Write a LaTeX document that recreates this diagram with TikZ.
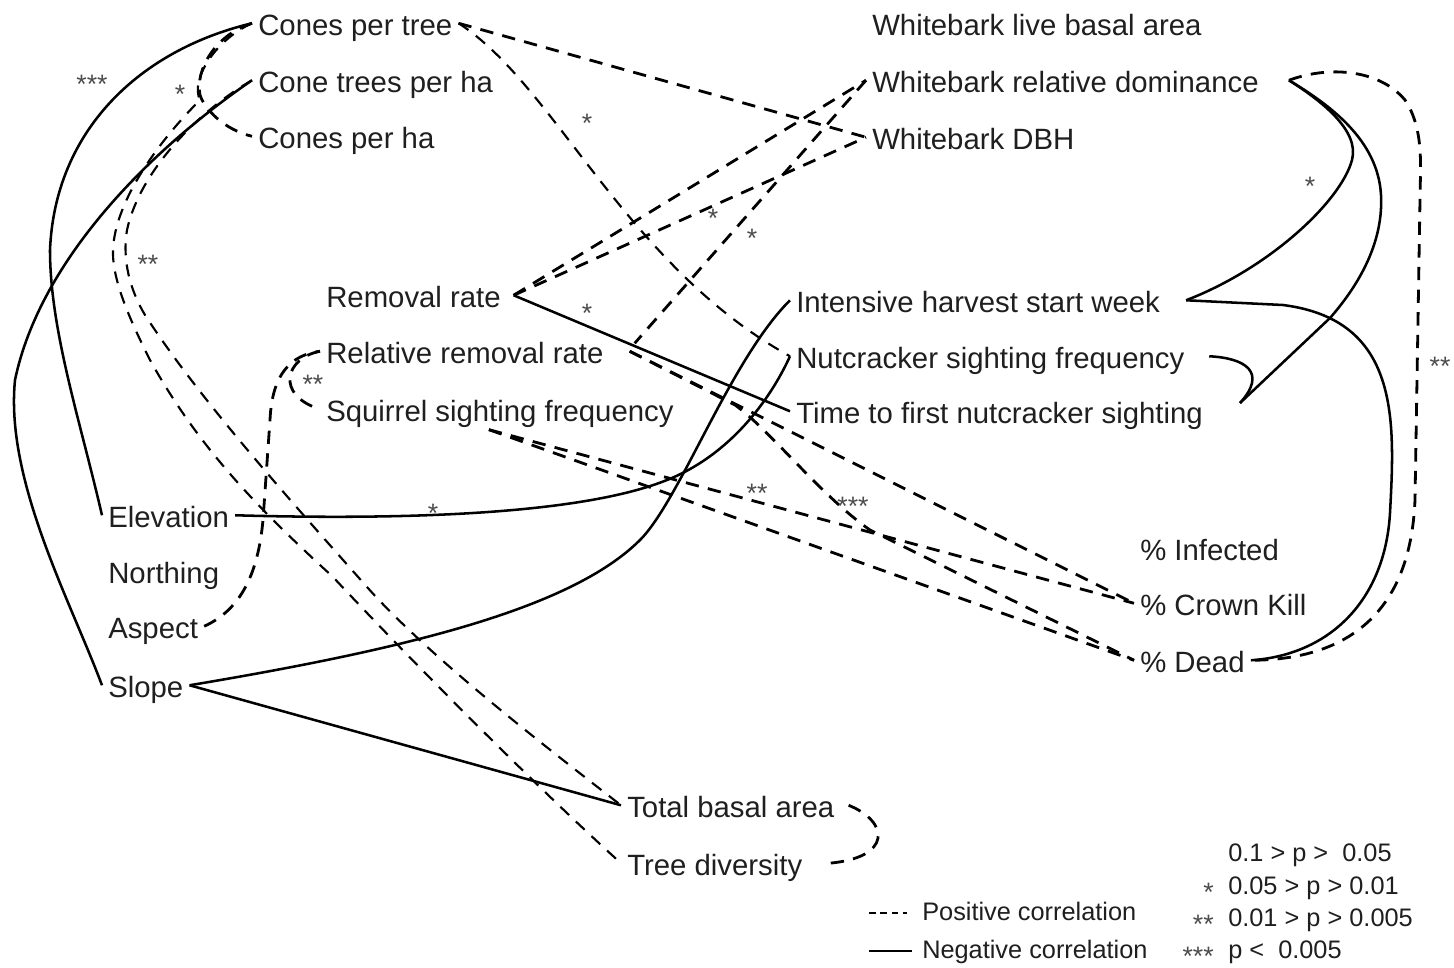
\documentclass[tikz,border=0pt]{standalone}
\usepackage{fontspec}
\setmainfont{Liberation Sans}
\usetikzlibrary{calc}
\tikzset{
  lbl/.style={font=\fontsize{22}{26}\selectfont, text=black!88, anchor=base west, inner xsep=4.5pt, inner ysep=0pt, text height=20.9pt, text depth=3.3pt},
  legtxt/.style={font=\fontsize{19}{22}\selectfont, text=black!88, anchor=base west, inner sep=0pt},
  stars/.style={font=\fontsize{20}{20}\selectfont, text=black!70, inner sep=0pt},
  posline/.style={line width=2.1pt, dash pattern=on 10pt off 7pt, line join=round},
  posthin/.style={line width=1.6pt, dash pattern=on 9pt off 7pt, line join=round},
  negline/.style={line width=1.9pt, line join=round},
}
\begin{document}
\begin{tikzpicture}[x=0.75pt,y=-0.75pt]
\fill[white] (0,0) rectangle (1454,968);
\useasboundingbox (0,0) rectangle (1454,968);

% ---------- nodes ----------
\node[lbl] (CPT) at (252,35) {Cones per tree};
\node[lbl] (CTH) at (252,92) {Cone trees per ha};
\node[lbl] (CPH) at (252,148) {Cones per ha};
\node[lbl] (WLB) at (866,35) {Whitebark live basal area};
\node[lbl] (RD) at (866,92) {Whitebark relative dominance};
\node[lbl] (DBH) at (866,149) {Whitebark DBH};
\node[lbl] (RR) at (320,307) {Removal rate};
\node[lbl] (RRR) at (320,363) {Relative removal rate};
\node[lbl] (SSF) at (320,421) {Squirrel sighting frequency};
\node[lbl] (IH) at (790,312) {Intensive harvest start week};
\node[lbl] (NSF) at (790,368) {Nutcracker sighting frequency};
\node[lbl] (TFN) at (790,423) {Time to first nutcracker sighting};
\node[lbl] (Elev) at (102,527) {Elevation};
\node[lbl] (North) at (102,583) {Northing};
\node[lbl] (Asp) at (102,638) {Aspect};
\node[lbl] (Slope) at (102,697) {Slope};
\node[lbl] (Inf) at (1134,560) {\% Infected};
\node[lbl] (CK) at (1134,615) {\% Crown Kill};
\node[lbl] (Dead) at (1134,672) {\% Dead};
\node[lbl] (TBA) at (621,817) {Total basal area};
\node[lbl] (TD) at (621,875) {Tree diversity};

% ---------- helper coordinates ----------
\coordinate (RDe) at ([xshift=18pt]RD.east);
\coordinate (IHe) at ([xshift=15pt]IH.east);
\coordinate (NSFe) at ([xshift=14pt]NSF.east);
\coordinate (RRRe) at ([xshift=15pt]RRR.east);
\coordinate (RRe) at ([xshift=5pt]RR.east);
\coordinate (TDe) at ([xshift=15pt]TD.east);
\coordinate (apex) at (1240,403);
\coordinate (sq) at ($(SSF.south)+(-11,4)$);

% ---------- negative (solid) ----------
\draw[negline] (CPT.west) .. controls (140,50) and (55,130) .. (50,250)
  .. controls (50,330) and (80,420) .. (Elev.west);
\draw[negline] (CTH.west) .. controls (150,150) and (40,260) .. (15,380)
  .. controls (5,480) and (70,600) .. (Slope.west);
\draw[negline] (RRe) -- (TFN.west);
\draw[negline] (Elev.east) .. controls (400,520) and (580,515) .. (667,480)
  .. controls (730,455) and (770,400) .. (NSF.west);
\draw[negline] (Slope.east) .. controls (400,650) and (570,610) .. (640,540)
  .. controls (680,500) and (730,360) .. (IH.west);
\draw[negline] (Slope.east) -- (TBA.west);
\draw[negline] (RDe) .. controls (1320,100) and (1360,130) .. (1352,160)
  .. controls (1341,201) and (1270,268) .. (IHe);
\draw[negline] (RDe) .. controls (1330,105) and (1378,140) .. (1381,195)
  .. controls (1384,250) and (1350,295) .. (1330,318) -- (apex);
\draw[negline] (NSFe) .. controls (1245,358) and (1268,372) .. (apex);
\draw[negline] (IHe) -- (1283,305) .. controls (1400,320) and (1395,420) .. (1390,513)
  .. controls (1385,600) and (1330,655) .. (Dead.east);

% ---------- positive (dashed) ----------
\draw[posline] (CPT.west) .. controls (215,35) and (195,70) .. (200,95)
  .. controls (205,110) and (225,130) .. (CPH.west);
\draw[posthin] (CPT.west) .. controls (215,40) and (190,80) .. (200,100)
  .. controls (160,140) and (115,200) .. (113,250)
  .. controls (112,280) and (130,320) .. (150,360)
  .. controls (200,450) and (260,510) .. (333,577)
  .. controls (420,670) and (540,790) .. (TD.west);
\draw[posthin] (CTH.west) .. controls (200,110) and (140,170) .. (127,230)
  .. controls (122,260) and (130,290) .. (145,315)
  .. controls (200,400) and (290,500) .. (367,587)
  .. controls (430,658) and (550,750) .. (TBA.west);
\draw[posline] (CPT.east) -- (DBH.west);
\draw[posthin] (CPT.east) .. controls (555,85) and (625,265) .. (NSF.west);
\draw[posline] (RRe) -- (RD.west);
\draw[posline] (RRe) -- (DBH.west);
\draw[posline] (RD.west) -- ($(RRR.east)+(25,-8)$);
\draw[posline] (RRRe) -- (CK.west);
\draw[posline] (RRRe) -- (735,405) .. controls (770,430) and (820,495) .. (870,530) -- (Dead.west);
\draw[posline] (sq) -- (CK.west);
\draw[posline] (sq) -- (Dead.west);
\draw[posline] (Asp.east) .. controls (240,610) and (258,575) .. (263,520)
  -- (270,420) .. controls (272,375) and (290,355) .. (RRR.west);
\draw[posline] (RRR.west) .. controls (285,358) and (275,395) .. (SSF.west);
\draw[posline] (RDe) .. controls (1330,65) and (1380,70) .. (1405,100)
  .. controls (1425,130) and (1420,170) .. (1420,200) -- (1415,500)
  .. controls (1410,620) and (1340,660) .. (Dead.east);
\draw[posline] ([xshift=6pt]TBA.east) .. controls (890,822) and (892,858) .. (TDe);

% ---------- significance stars ----------
\node[stars] (s1) at (92,84) {***};
\node[stars] (s2) at (180,94) {*};
\node[stars] (s3) at (148,264) {**};
\node[stars] (s4) at (587,123) {*};
\node[stars] (s5) at (713,218) {*};
\node[stars] (s6) at (752,238) {*};
\node[stars] (s7) at (587,313) {*};
\node[stars] (s8) at (313,384) {**};
\node[stars] (s9) at (433,513) {*};
\node[stars] (s10) at (757,493) {**};
\node[stars] (s11) at (853,506) {***};
\node[stars] (s12) at (1310,186) {*};
\node[stars] (s13) at (1440,366) {**};

% ---------- legend ----------
\draw[line width=1.2pt, dash pattern=on 5pt off 3.5pt] (869,913) -- (907,913);
\draw[line width=1.2pt] (869,951) -- (912,951);
\node[legtxt] (lpos) at (922,920) {Positive correlation};
\node[legtxt] (lneg) at (922,958) {Negative correlation};
\node[legtxt] (v1) at (1228,861) {0.1 > p > \ 0.05};
\node[legtxt] (v2) at (1228,894) {0.05 > p > 0.01};
\node[legtxt] (v3) at (1228,926) {0.01 > p > 0.005};
\node[legtxt] (v4) at (1228,958) {p < \ 0.005};
\node[stars, anchor=east] (ls1) at (1214,892) {*};
\node[stars, anchor=east] (ls2) at (1214,924) {**};
\node[stars, anchor=east] (ls3) at (1214,956) {***};
\end{tikzpicture}
\end{document}
